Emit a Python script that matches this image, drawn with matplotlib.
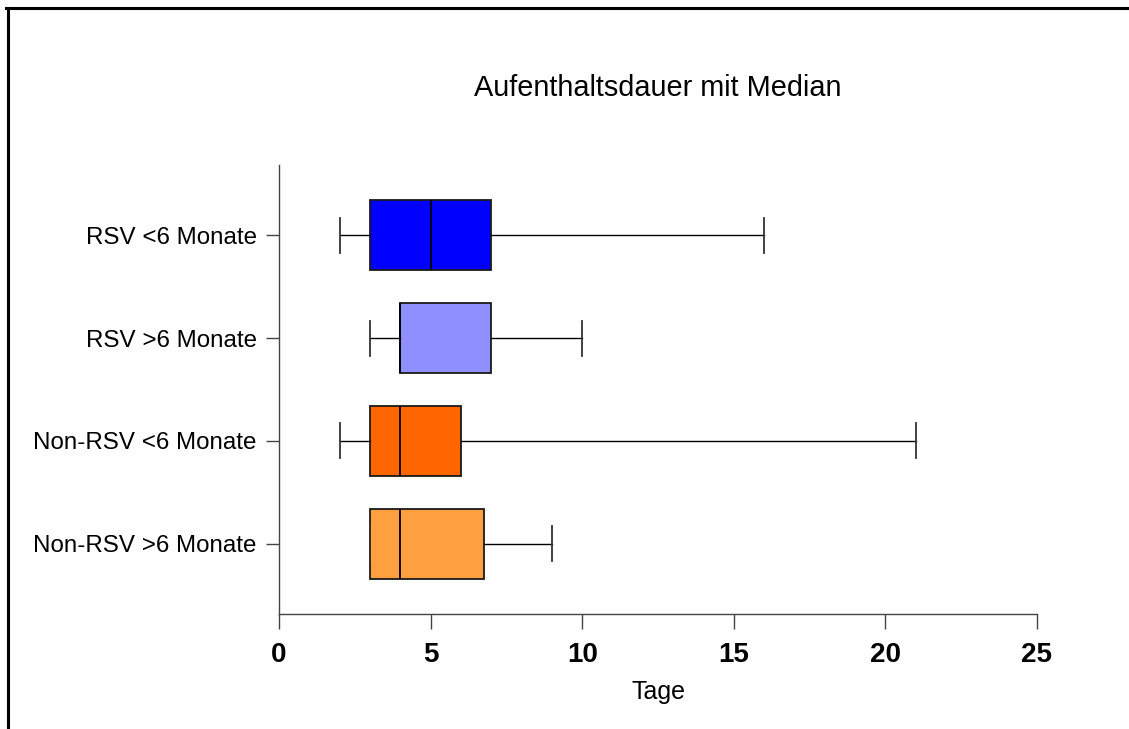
import matplotlib
matplotlib.use("Agg")
import matplotlib.pyplot as plt
from matplotlib.lines import Line2D

plt.rcParams["font.family"] = ["Liberation Sans", "DejaVu Sans"]

# groups, top to bottom
groups = ["RSV <6 Monate", "RSV >6 Monate", "Non-RSV <6 Monate", "Non-RSV >6 Monate"]
whis_lo = [2, 3, 2, 3]
q1 = [3, 4, 3, 3]
median = [5, 4, 4, 4]
q3 = [7, 7, 6, 6.75]
whis_hi = [16, 10, 21, 9]
colors = ["#0000FF", "#8F8FFF", "#FF6600", "#FFA040"]
xticks = [0, 5, 10, 15, 20, 25]

W, H = 1129, 729
fig = plt.figure(figsize=(W / 100, H / 100), dpi=100)
ax = fig.add_axes([279 / W, 1 - 614 / H, (1037 - 279) / W, (614 - 165) / H])

stats = []
for i, g in enumerate(groups):
    stats.append(dict(label=g, whislo=whis_lo[i], q1=q1[i], med=median[i],
                      q3=q3[i], whishi=whis_hi[i], fliers=[]))

bp = ax.bxp(stats, positions=range(len(groups)), widths=0.68, capwidths=0.34,
            vert=False, patch_artist=True, showfliers=False,
            boxprops=dict(edgecolor="#1a1a1a", linewidth=1.3),
            medianprops=dict(color="black", linewidth=1.3),
            whiskerprops=dict(color="black", linewidth=1.0),
            capprops=dict(color="#333333", linewidth=1.3))
for patch, c in zip(bp["boxes"], colors):
    patch.set_facecolor(c)

ax.set_ylim(3.68, -0.68)
ax.set_xlim(0, 25)
ax.set_xticks(xticks)
ax.set_xticklabels([str(t) for t in xticks], fontsize=20, fontweight="bold")
ax.set_yticks(range(len(groups)))
ax.set_yticklabels(groups, fontsize=17.4)

for s in ["top", "right"]:
    ax.spines[s].set_visible(False)
for s in ["left", "bottom"]:
    ax.spines[s].set_color("#444444")
    ax.spines[s].set_linewidth(1.0)
ax.tick_params(axis="x", length=11, width=1, color="#444444", pad=9)
ax.tick_params(axis="y", length=9.5, width=1, color="#444444", pad=6.5)

ax.set_xlabel("Tage", fontsize=18, labelpad=9)
fig.text(658 / W, 1 - 88 / H, "Aufenthaltsdauer mit Median", fontsize=20.8,
         ha="center", va="center")

# frame lines at top and left edge
fig.add_artist(Line2D([7.5 / W, 7.5 / W], [0, 1 - 7.5 / H], transform=fig.transFigure,
                      color="black", linewidth=2.2))
fig.add_artist(Line2D([6 / W, 1], [1 - 7.5 / H, 1 - 7.5 / H], transform=fig.transFigure,
                      color="black", linewidth=2.2))

fig.savefig("out.png", dpi=100)
